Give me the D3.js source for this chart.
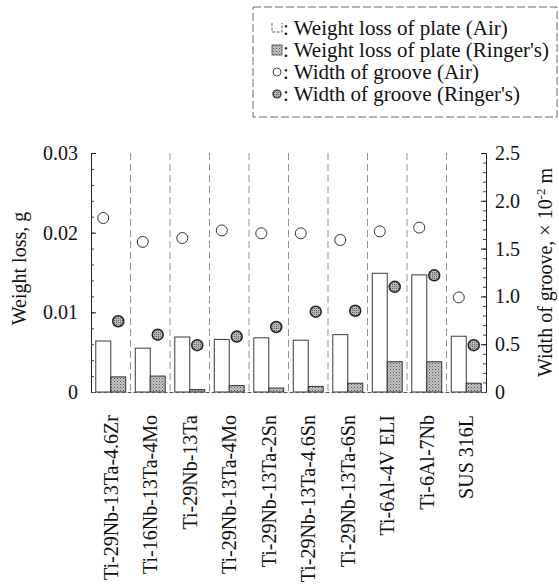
<!DOCTYPE html>
<html>
<head>
<meta charset="utf-8">
<script src="https://cdn.jsdelivr.net/npm/d3@7/dist/d3.min.js"></script>
<style>
  html, body { margin: 0; padding: 0; background: #fff; }
  svg { display: block; }
  text { font-family: "Liberation Serif", "Times New Roman", serif; fill: #111; }
</style>
</head>
<body>
<svg id="chart" width="559" height="588"></svg>
<script>
// Alloys tested
const categories = [
  "Ti-29Nb-13Ta-4.6Zr", "Ti-16Nb-13Ta-4Mo", "Ti-29Nb-13Ta", "Ti-29Nb-13Ta-4Mo",
  "Ti-29Nb-13Ta-2Sn", "Ti-29Nb-13Ta-4.6Sn", "Ti-29Nb-13Ta-6Sn", "Ti-6Al-4V ELI",
  "Ti-6Al-7Nb", "SUS 316L"
];
// Weight loss of plate, g
const weightLossAir     = [0.0064, 0.0055, 0.0069, 0.0066, 0.0068, 0.0065, 0.0072, 0.0149, 0.0147, 0.0070];
const weightLossRinger  = [0.0019, 0.0020, 0.0003, 0.0008, 0.0005, 0.0007, 0.0011, 0.0038, 0.0038, 0.0011];
// Width of groove, x10^-2 m
const grooveAir    = [1.82, 1.57, 1.61, 1.69, 1.66, 1.66, 1.59, 1.68, 1.72, 0.99];
const grooveRinger = [0.74, 0.60, 0.49, 0.58, 0.68, 0.84, 0.85, 1.10, 1.22, 0.49];
// Tick labels
const leftTicks  = [0, 0.01, 0.02, 0.03];
const leftTickLabels = ["0", "0.01", "0.02", "0.03"];
const rightTicks = [0, 0.5, 1.0, 1.5, 2.0, 2.5];
const rightTickLabels = ["0", "0.5", "1.0", "1.5", "2.0", "2.5"];
const legendLabels = [
  ": Weight loss of plate (Air)",
  ": Weight loss of plate (Ringer's)",
  ": Width of groove (Air)",
  ": Width of groove (Ringer's)"
];

const FONT = "'Liberation Serif', 'Times New Roman', serif";
const FS = 20;

const svg = d3.select("#chart");
const plot = { left: 91, right: 486, top: 153, bottom: 392 };

// Stipple fills for the Ringer's bars and markers
const defs = svg.append("defs");
const stip = defs.append("pattern").attr("id", "stipple")
  .attr("width", 3).attr("height", 3).attr("patternUnits", "userSpaceOnUse");
stip.append("rect").attr("width", 3).attr("height", 3).attr("fill", "#c4c4c4");
stip.append("rect").attr("x", 0).attr("y", 0).attr("width", 1).attr("height", 1).attr("fill", "#555");
stip.append("rect").attr("x", 1.5).attr("y", 1.5).attr("width", 1).attr("height", 1).attr("fill", "#7a7a7a");
const stipDark = defs.append("pattern").attr("id", "stippleDark")
  .attr("width", 2).attr("height", 2).attr("patternUnits", "userSpaceOnUse");
stipDark.append("rect").attr("width", 2).attr("height", 2).attr("fill", "#b5b5b5");
stipDark.append("rect").attr("width", 1).attr("height", 1).attr("fill", "#666");

const x = d3.scaleBand().domain(categories).range([plot.left, plot.right]).padding(0);
const sub = d3.scaleBand().domain(["air", "ringer"]).range([0, x.bandwidth()])
  .paddingInner(0).paddingOuter(0.32);
const yL = d3.scaleLinear().domain([0, 0.03]).range([plot.bottom, plot.top]);
const yR = d3.scaleLinear().domain([0, 2.5]).range([plot.bottom, plot.top]);

// Category separators
svg.append("g").selectAll("line")
  .data(categories.slice(1))
  .join("line")
  .attr("x1", d => x(d)).attr("x2", d => x(d))
  .attr("y1", plot.top).attr("y2", plot.bottom)
  .attr("stroke", "#888").attr("stroke-width", 0.9)
  .attr("stroke-dasharray", "7,4");

// Bars: weight loss in air
svg.append("g").selectAll("rect")
  .data(categories)
  .join("rect")
  .attr("x", d => x(d) + sub("air"))
  .attr("y", (d, i) => yL(weightLossAir[i]))
  .attr("width", sub.bandwidth())
  .attr("height", (d, i) => plot.bottom - yL(weightLossAir[i]))
  .attr("fill", "#fff").attr("stroke", "#3a3a3a").attr("stroke-width", 1);

// Bars: weight loss in Ringer's solution
svg.append("g").selectAll("rect")
  .data(categories)
  .join("rect")
  .attr("x", d => x(d) + sub("ringer"))
  .attr("y", (d, i) => yL(weightLossRinger[i]))
  .attr("width", sub.bandwidth())
  .attr("height", (d, i) => plot.bottom - yL(weightLossRinger[i]))
  .attr("fill", "url(#stipple)").attr("stroke", "#333").attr("stroke-width", 1);

// Markers: groove width
svg.append("g").selectAll("circle")
  .data(categories)
  .join("circle")
  .attr("cx", d => x(d) + sub("air") + sub.bandwidth() / 2)
  .attr("cy", (d, i) => yR(grooveAir[i]))
  .attr("r", 5.5)
  .attr("fill", "#fff").attr("stroke", "#333").attr("stroke-width", 1);

svg.append("g").selectAll("circle")
  .data(categories)
  .join("circle")
  .attr("cx", d => x(d) + sub("ringer") + sub.bandwidth() / 2)
  .attr("cy", (d, i) => yR(grooveRinger[i]))
  .attr("r", 5.5)
  .attr("fill", "url(#stippleDark)").attr("stroke", "#222").attr("stroke-width", 1.5);

// Left axis
const leftMinor = svg.append("g").attr("transform", `translate(${plot.left},0)`)
  .call(d3.axisLeft(yL).tickValues(d3.range(0, 0.0301, 0.002)).tickSize(-3).tickFormat(""));
leftMinor.select(".domain").attr("stroke", "#222");
leftMinor.selectAll(".tick line").attr("stroke", "#444");
const leftMajor = svg.append("g").attr("transform", `translate(${plot.left},0)`)
  .call(d3.axisLeft(yL).tickValues(leftTicks).tickSize(-5).tickPadding(13)
    .tickFormat((d, i) => leftTickLabels[i]));
leftMajor.select(".domain").remove();
leftMajor.selectAll(".tick line").attr("stroke", "#222");
leftMajor.selectAll("text").attr("font-size", FS)
  .style("font-family", FONT).attr("fill", "#111");

// Right axis
const rightMinor = svg.append("g").attr("transform", `translate(${plot.right},0)`)
  .call(d3.axisRight(yR).tickValues(d3.range(0, 2.501, 0.1)).tickSize(-3).tickFormat(""));
rightMinor.select(".domain").attr("stroke", "#222");
rightMinor.selectAll(".tick line").attr("stroke", "#444");
const rightMajor = svg.append("g").attr("transform", `translate(${plot.right},0)`)
  .call(d3.axisRight(yR).tickValues(rightTicks).tickSize(-5).tickPadding(9)
    .tickFormat((d, i) => rightTickLabels[i]));
rightMajor.select(".domain").remove();
rightMajor.selectAll(".tick line").attr("stroke", "#222");
rightMajor.selectAll("text").attr("font-size", FS)
  .style("font-family", FONT).attr("fill", "#111");

// Bottom axis with rotated alloy names
const bottom = svg.append("g").attr("transform", `translate(0,${plot.bottom})`)
  .call(d3.axisBottom(x).tickSize(0).tickPadding(0));
bottom.select(".domain").attr("stroke", "#555").attr("stroke-dasharray", "4,2");
bottom.selectAll("text")
  .attr("transform", "rotate(-90)")
  .attr("text-anchor", "end")
  .attr("x", -23).attr("y", 0).attr("dy", "0.35em")
  .attr("font-size", FS)
  .style("font-family", FONT).attr("fill", "#111");

// Axis titles
svg.append("text")
  .attr("transform", `translate(19,${(plot.top + plot.bottom) / 2 - 4}) rotate(-90)`)
  .attr("text-anchor", "middle").attr("dy", "0.35em")
  .attr("font-size", FS)
  .text("Weight loss, g");

const rt = svg.append("text")
  .attr("transform", `translate(545,${(plot.top + plot.bottom) / 2}) rotate(-90)`)
  .attr("text-anchor", "middle").attr("dy", "0.35em")
  .attr("font-size", FS);
rt.append("tspan").text("Width of  groove,  \u00d7 10");
rt.append("tspan").attr("font-size", 13).attr("dy", "-0.55em").text("-2");
rt.append("tspan").attr("dy", "0.35em").attr("font-size", FS).text(" m");

// Legend
const lg = svg.append("g");
lg.append("rect")
  .attr("x", 253).attr("y", 7).attr("width", 304).attr("height", 110)
  .attr("fill", "none").attr("stroke", "#555").attr("stroke-width", 0.9)
  .attr("stroke-dasharray", "8,3");
const rowY = [28, 50, 72, 94];
// Symbols
lg.append("path")
  .attr("d", `M272,${rowY[0] - 5} V${rowY[0] + 4} H282 V${rowY[0] - 5}`)
  .attr("fill", "none").attr("stroke", "#555").attr("stroke-width", 0.9)
  .attr("stroke-dasharray", "3,1.5");
lg.append("rect").attr("x", 272).attr("y", rowY[1] - 5).attr("width", 10).attr("height", 10)
  .attr("fill", "url(#stipple)").attr("stroke", "#444").attr("stroke-width", 0.8);
lg.append("circle").attr("cx", 277).attr("cy", rowY[2]).attr("r", 4)
  .attr("fill", "#fff").attr("stroke", "#333").attr("stroke-width", 0.9);
lg.append("circle").attr("cx", 277).attr("cy", rowY[3]).attr("r", 4)
  .attr("fill", "url(#stippleDark)").attr("stroke", "#222").attr("stroke-width", 1.2);
lg.selectAll("text.item")
  .data(legendLabels)
  .join("text").attr("class", "item")
  .attr("x", 283).attr("y", (d, i) => rowY[i]).attr("dy", "0.35em")
  .attr("font-size", 21)
  .text(d => d);
</script>
</body>
</html>
